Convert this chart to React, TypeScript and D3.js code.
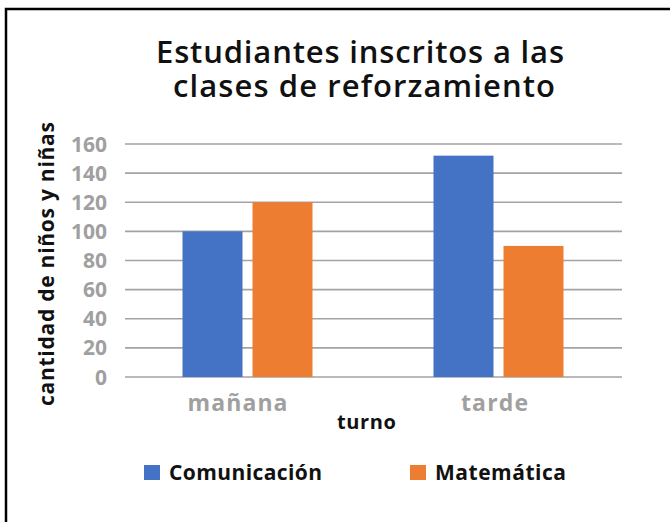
import * as d3 from 'd3';
import React from 'react';

const categories = ['mañana', 'tarde'];
const seriesNames = ['Comunicación', 'Matemática'];
const comunicacion = [100, 152];
const matematica = [120, 90];
const yTicks = [0, 20, 40, 60, 80, 100, 120, 140, 160];
const colors = ['#4472C4', '#ED7D31'];

const W = 670;
const H = 522;
const font = '"Open Sans", Lato, sans-serif';

// widths of the labels in the original (its font is wider)
const catLabelWidth = [100, 67];
const legendTextWidth = [153, 131];

const App = () => {
  // plot area
  const x = d3.scaleBand().domain(categories).range([122, 624]);
  const y = d3.scaleLinear().domain([0, 160]).range([377, 144]);
  const barW = 60;
  const gap = 10;
  const values = [comunicacion, matematica];

  return (
    <svg width={W} height={H} style={{ position: 'absolute', left: 0, top: 0 }} fontFamily={font}>
      <rect x={0} y={0} width={W} height={H} fill='#fff' />
      <rect x={6} y={9} width={W + 10} height={H + 10} fill='none' stroke='#000' strokeWidth={2.5} />

      <text x={156} y={63} fontSize={31} fontWeight={600} fill='#111' textLength={408} lengthAdjust='spacing'>Estudiantes inscritos a las</text>
      <text x={173} y={97} fontSize={31} fontWeight={600} fill='#111' textLength={382} lengthAdjust='spacing'>clases de reforzamiento</text>

      {yTicks.map((t) => (
        <g key={t}>
          <line x1={125} x2={622} y1={y(t)} y2={y(t)} stroke='#a3a3a3' strokeWidth={1.6} />
          <text x={107} y={y(t) + 7.5} textAnchor='end' fontSize={21} fontWeight={700} fill='#a0a0a0'>{t}</text>
        </g>
      ))}

      {values.map((vals, s) =>
        vals.map((v, i) => {
          const cx = x(categories[i])! + x.bandwidth() / 2;
          const left = cx - barW - gap / 2 + s * (barW + gap);
          return <rect key={`${s}-${i}`} x={left} y={y(v)} width={barW} height={y(0) - y(v)} fill={colors[s]} />;
        })
      )}

      {categories.map((c, i) => (
        <text key={c} x={x(c)! + x.bandwidth() / 2 - 10 + i * 6} y={411} textAnchor='middle' fontSize={23} fontWeight={700} fill='#a0a0a0' textLength={catLabelWidth[i]} lengthAdjust='spacing'>{c}</text>
      ))}

      <text x={337} y={429} fontSize={20} fontWeight={700} fill='#111' textLength={59} lengthAdjust='spacing'>turno</text>
      <text transform='translate(53.5, 406) rotate(-90)' fontSize={21} fontWeight={700} fill='#111' textLength={284} lengthAdjust='spacing'>cantidad de niños y niñas</text>

      {seriesNames.map((n, s) => {
        const lx = [144, 410][s];
        return (
          <g key={n}>
            <rect x={lx} y={465} width={16} height={15} fill={colors[s]} />
            <text x={lx + 25} y={480} fontSize={21} fontWeight={700} fill='#111' textLength={legendTextWidth[s]} lengthAdjust='spacing'>{n}</text>
          </g>
        );
      })}
    </svg>
  );
};

export default App;
